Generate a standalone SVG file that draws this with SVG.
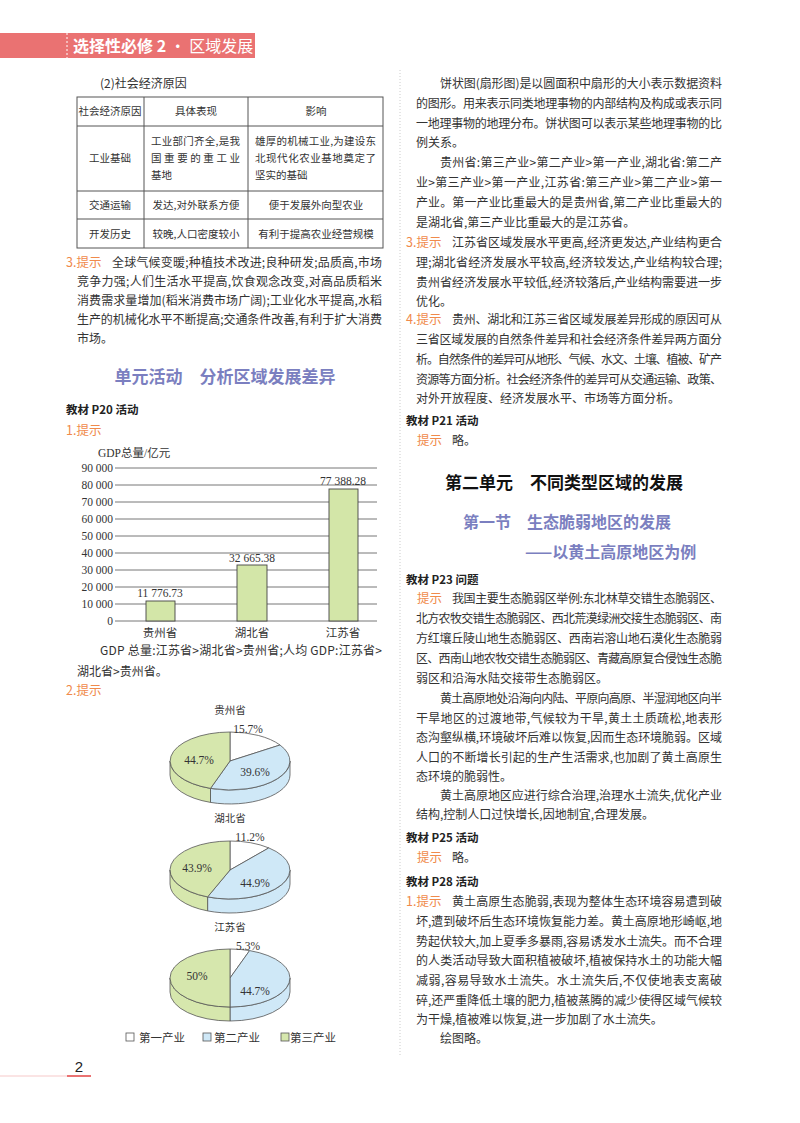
<svg xmlns="http://www.w3.org/2000/svg" width="800" height="1123" viewBox="0 0 800 1123">
<style>
.t{font-family:"Noto Sans CJK SC","Liberation Sans",sans-serif;font-size:12px;fill:#333}
.s{font-size:10.5px}
.b{font-family:"Noto Sans CJK SC",sans-serif;font-size:11.5px;font-weight:bold;fill:#222}
.o{font-family:"Noto Sans CJK SC",sans-serif;font-size:12.5px;fill:#f08a4b}
.h{font-family:"Noto Sans CJK SC",sans-serif;font-size:17px;font-weight:bold;fill:#7b7fc0}
.n{font-family:"Liberation Serif","Noto Sans CJK SC",serif;font-size:11.5px;fill:#333}
.c{text-anchor:middle}
.grid{stroke:#666;stroke-width:0.9}
.bar{fill:#d3e6a8;stroke:#444;stroke-width:0.9}
.pw{fill:#fff;stroke:#555;stroke-width:0.8}
.pb{fill:#cfe8f7;stroke:#555;stroke-width:0.8}
.pg{fill:#d6e7ad;stroke:#555;stroke-width:0.8}
.tb{fill:none;stroke:#555;stroke-width:1}
</style>
<rect width="800" height="1123" fill="#fff"/>
<g id="header">
<rect x="0" y="33" width="255" height="25" fill="#ea7272"/>
<line x1="67" y1="33" x2="67" y2="58" stroke="#fff" stroke-dasharray="2,2"/>
<text x="73" y="52" style="font-family:'Noto Sans CJK SC',sans-serif;font-size:16px;fill:#fff"><tspan font-weight="bold">选择性必修 2</tspan> · 区域发展</text>
</g>
<line x1="400" y1="70" x2="400" y2="1055" stroke="#ccc" stroke-dasharray="1,2"/>
<g id="footer">
<line x1="0" y1="1076" x2="67" y2="1076" stroke="#f6c9c9" stroke-width="1"/>
<line x1="67" y1="1076" x2="91" y2="1076" stroke="#ea7272" stroke-width="2"/>
<text x="79" y="1072" class="c" style="font-family:'Liberation Sans',sans-serif;font-size:15px;fill:#222">2</text>
</g>

<g id="table">
<text x="100" y="88" class="t">(2)社会经济原因</text>
<rect x="77" y="97" width="306" height="151" class="tb"/>
<line x1="77" y1="126" x2="383" y2="126" class="tb"/>
<line x1="77" y1="191" x2="383" y2="191" class="tb"/>
<line x1="77" y1="219" x2="383" y2="219" class="tb"/>
<line x1="144" y1="97" x2="144" y2="248" class="tb"/>
<line x1="248" y1="97" x2="248" y2="248" class="tb"/>
<text x="110" y="115" class="t s c">社会经济原因</text>
<text x="196" y="115" class="t s c">具体表现</text>
<text x="316" y="115" class="t s c">影响</text>
<text x="110" y="162" class="t s c">工业基础</text>
<text x="151" y="145" class="t s" textLength="89" lengthAdjust="spacing">工业部门齐全,是我</text>
<text x="151" y="162" class="t s" textLength="89" lengthAdjust="spacing">国重要的重工业</text>
<text x="151" y="179" class="t s">基地</text>
<text x="255" y="145" class="t s" textLength="121" lengthAdjust="spacing">雄厚的机械工业,为建设东</text>
<text x="255" y="162" class="t s" textLength="121" lengthAdjust="spacing">北现代化农业基地奠定了</text>
<text x="255" y="179" class="t s">坚实的基础</text>
<text x="110" y="209" class="t s c">交通运输</text>
<text x="196" y="209" class="t s c">发达,对外联系方便</text>
<text x="316" y="209" class="t s c">便于发展外向型农业</text>
<text x="110" y="238" class="t s c">开发历史</text>
<text x="196" y="238" class="t s c">较晚,人口密度较小</text>
<text x="316" y="238" class="t s c">有利于提高农业经营规模</text>
</g>

<g id="left-text">
<text x="66" y="267" class="o">3.提示</text>
<text x="112" y="267" class="t" textLength="270" lengthAdjust="spacing">全球气候变暖;种植技术改进;良种研发;品质高,市场</text>
<text x="77" y="286" class="t" textLength="305" lengthAdjust="spacing">竞争力强;人们生活水平提高,饮食观念改变,对高品质稻米</text>
<text x="77" y="305" class="t" textLength="305" lengthAdjust="spacing">消费需求量增加(稻米消费市场广阔);工业化水平提高,水稻</text>
<text x="77" y="324" class="t" textLength="305" lengthAdjust="spacing">生产的机械化水平不断提高;交通条件改善,有利于扩大消费</text>
<text x="77" y="343" class="t">市场。</text>
<text x="225" y="383" class="h c">单元活动　分析区域发展差异</text>
<text x="66" y="414" class="b">教材 P20 活动</text>
<text x="66" y="435" class="o">1.提示</text>
</g>

<g id="bar-chart">
<text x="98" y="457" class="n">GDP总量/亿元</text>
<g class="grid">
<line x1="115" y1="468" x2="377" y2="468"/><line x1="115" y1="485" x2="377" y2="485"/>
<line x1="115" y1="502" x2="377" y2="502"/><line x1="115" y1="519" x2="377" y2="519"/>
<line x1="115" y1="536" x2="377" y2="536"/><line x1="115" y1="553" x2="377" y2="553"/>
<line x1="115" y1="570" x2="377" y2="570"/><line x1="115" y1="587" x2="377" y2="587"/>
<line x1="115" y1="604" x2="377" y2="604"/><line x1="115" y1="621" x2="377" y2="621"/>
</g>
<g class="n" text-anchor="end">
<text x="113" y="472">90 000</text><text x="113" y="489">80 000</text>
<text x="113" y="506">70 000</text><text x="113" y="523">60 000</text>
<text x="113" y="540">50 000</text><text x="113" y="557">40 000</text>
<text x="113" y="574">30 000</text><text x="113" y="591">20 000</text>
<text x="113" y="608">10 000</text><text x="113" y="625">0</text>
</g>
<rect x="146" y="601" width="29" height="20" class="bar"/>
<rect x="237" y="565" width="30" height="56" class="bar"/>
<rect x="329" y="489" width="29" height="132" class="bar"/>
<text x="160" y="597" class="n c">11 776.73</text>
<text x="252" y="562" class="n c">32 665.38</text>
<text x="343" y="485" class="n c">77 388.28</text>
<text x="160" y="637" class="n c">贵州省</text>
<text x="252" y="637" class="n c">湖北省</text>
<text x="343" y="637" class="n c">江苏省</text>
</g>

<g id="gdp-text">
<text x="100" y="655" class="t" textLength="282" lengthAdjust="spacing">GDP 总量:江苏省&gt;湖北省&gt;贵州省;人均 GDP:江苏省&gt;</text>
<text x="77" y="676" class="t">湖北省&gt;贵州省。</text>
<text x="66" y="695" class="o">2.提示</text>
</g>

<g id="pie-guizhou">
<text x="230" y="714" class="t s c">贵州省</text>
<path d="M290,761 A60,29 0 0 1 210.5,788.4 L210.5,802.4 A60,29 0 0 0 290,775 Z" class="pb"/>
<path d="M210.5,788.4 A60,29 0 0 1 170,761 L170,775 A60,29 0 0 0 210.5,802.4 Z" class="pg"/>
<path d="M230,761 L230,732 A60,29 0 0 1 280,745 Z" class="pw"/>
<path d="M230,761 L280,745 A60,29 0 0 1 210.5,788.4 Z" class="pb"/>
<path d="M230,761 L210.5,788.4 A60,29 0 0 1 230,732 Z" class="pg"/>
<text x="248" y="733" class="n c">15.7%</text>
<text x="199" y="764" class="n c">44.7%</text>
<text x="255" y="776" class="n c">39.6%</text>
</g>
<g id="pie-hubei">
<text x="230" y="822" class="t s c">湖北省</text>
<path d="M290,870 A60,29 0 0 1 207.6,896.9 L207.6,910.9 A60,29 0 0 0 290,884 Z" class="pb"/>
<path d="M207.6,896.9 A60,29 0 0 1 170,870 L170,884 A60,29 0 0 0 207.6,910.9 Z" class="pg"/>
<path d="M230,870 L230,841 A60,29 0 0 1 268.8,847.9 Z" class="pw"/>
<path d="M230,870 L268.8,847.9 A60,29 0 0 1 207.6,896.9 Z" class="pb"/>
<path d="M230,870 L207.6,896.9 A60,29 0 0 1 230,841 Z" class="pg"/>
<text x="250" y="841" class="n c">11.2%</text>
<text x="197" y="872" class="n c">43.9%</text>
<text x="255" y="887" class="n c">44.9%</text>
</g>
<g id="pie-jiangsu">
<text x="230" y="931" class="t s c">江苏省</text>
<path d="M290,978 A60,29 0 0 1 230,1007 L230,1021 A60,29 0 0 0 290,992 Z" class="pb"/>
<path d="M230,1007 A60,29 0 0 1 170,978 L170,992 A60,29 0 0 0 230,1021 Z" class="pg"/>
<path d="M230,978 L230,949 A60,29 0 0 1 249.6,950.6 Z" class="pw"/>
<path d="M230,978 L249.6,950.6 A60,29 0 0 1 230,1007 Z" class="pb"/>
<path d="M230,978 L230,1007 A60,29 0 0 1 230,949 Z" class="pg"/>
<text x="248" y="950" class="n c">5.3%</text>
<text x="197" y="980" class="n c">50%</text>
<text x="255" y="995" class="n c">44.7%</text>
</g>
<g id="legend">
<rect x="126" y="1033" width="8" height="8" class="pw"/>
<text x="139" y="1042" class="n">第一产业</text>
<rect x="203" y="1033" width="8" height="8" class="pb"/>
<text x="214" y="1042" class="n">第二产业</text>
<rect x="281" y="1033" width="8" height="8" class="pg"/>
<text x="290" y="1042" class="n">第三产业</text>
</g>

<g id="right-top">
<text x="440" y="88" class="t" textLength="282" lengthAdjust="spacing">饼状图(扇形图)是以圆面积中扇形的大小表示数据资料</text>
<text x="416" y="108" class="t" textLength="306" lengthAdjust="spacing">的图形。用来表示同类地理事物的内部结构及构成或表示同</text>
<text x="416" y="128" class="t" textLength="306" lengthAdjust="spacing">一地理事物的地理分布。饼状图可以表示某些地理事物的比</text>
<text x="416" y="147" class="t">例关系。</text>
<text x="440" y="167" class="t" textLength="282" lengthAdjust="spacing">贵州省:第三产业&gt;第二产业&gt;第一产业,湖北省:第二产</text>
<text x="416" y="187" class="t" textLength="306" lengthAdjust="spacing">业&gt;第三产业&gt;第一产业,江苏省:第三产业&gt;第二产业&gt;第一</text>
<text x="416" y="207" class="t" textLength="306" lengthAdjust="spacing">产业。第一产业比重最大的是贵州省,第二产业比重最大的</text>
<text x="416" y="227" class="t">是湖北省,第三产业比重最大的是江苏省。</text>
<text x="406" y="247" class="o">3.提示</text>
<text x="452" y="247" class="t" textLength="270" lengthAdjust="spacing">江苏省区域发展水平更高,经济更发达,产业结构更合</text>
<text x="416" y="267" class="t" textLength="306" lengthAdjust="spacing">理;湖北省经济发展水平较高,经济较发达,产业结构较合理;</text>
<text x="416" y="287" class="t" textLength="306" lengthAdjust="spacing">贵州省经济发展水平较低,经济较落后,产业结构需要进一步</text>
<text x="416" y="306" class="t">优化。</text>
<text x="406" y="324" class="o">4.提示</text>
<text x="452" y="324" class="t" textLength="270" lengthAdjust="spacing">贵州、湖北和江苏三省区域发展差异形成的原因可从</text>
<text x="416" y="344" class="t" textLength="306" lengthAdjust="spacing">三省区域发展的自然条件差异和社会经济条件差异两方面分</text>
<text x="416" y="364" class="t" textLength="306" lengthAdjust="spacing">析。自然条件的差异可从地形、气候、水文、土壤、植被、矿产</text>
<text x="416" y="384" class="t" textLength="306" lengthAdjust="spacing">资源等方面分析。社会经济条件的差异可从交通运输、政策、</text>
<text x="416" y="403" class="t">对外开放程度、经济发展水平、市场等方面分析。</text>
<text x="406" y="425" class="b">教材 P21 活动</text>
<text x="417" y="445" class="o">提示</text>
<text x="452" y="445" class="t">略。</text>
</g>

<g id="right-mid">
<text x="564" y="489" class="c" style="font-family:'Noto Sans CJK SC',sans-serif;font-size:17px;font-weight:bold;fill:#111">第二单元　不同类型区域的发展</text>
<text x="463" y="528" class="h" style="font-size:16px">第一节　生态脆弱地区的发展</text>
<text x="525" y="558" class="h" style="font-size:16px">——以黄土高原地区为例</text>
<text x="406" y="584" class="b">教材 P23 问题</text>
<text x="417" y="603" class="o">提示</text>
<text x="452" y="603" class="t" textLength="270" lengthAdjust="spacing">我国主要生态脆弱区举例:东北林草交错生态脆弱区、</text>
<text x="416" y="623" class="t" textLength="306" lengthAdjust="spacing">北方农牧交错生态脆弱区、西北荒漠绿洲交接生态脆弱区、南</text>
<text x="416" y="643" class="t" textLength="306" lengthAdjust="spacing">方红壤丘陵山地生态脆弱区、西南岩溶山地石漠化生态脆弱</text>
<text x="416" y="663" class="t" textLength="306" lengthAdjust="spacing">区、西南山地农牧交错生态脆弱区、青藏高原复合侵蚀生态脆</text>
<text x="416" y="683" class="t">弱区和沿海水陆交接带生态脆弱区。</text>
<text x="440" y="703" class="t" textLength="282" lengthAdjust="spacing">黄土高原地处沿海向内陆、平原向高原、半湿润地区向半</text>
<text x="416" y="723" class="t" textLength="306" lengthAdjust="spacing">干旱地区的过渡地带,气候较为干旱,黄土土质疏松,地表形</text>
<text x="416" y="742" class="t" textLength="306" lengthAdjust="spacing">态沟壑纵横,环境破坏后难以恢复,因而生态环境脆弱。区域</text>
<text x="416" y="762" class="t" textLength="306" lengthAdjust="spacing">人口的不断增长引起的生产生活需求,也加剧了黄土高原生</text>
<text x="416" y="781" class="t">态环境的脆弱性。</text>
<text x="440" y="800" class="t" textLength="282" lengthAdjust="spacing">黄土高原地区应进行综合治理,治理水土流失,优化产业</text>
<text x="416" y="819" class="t">结构,控制人口过快增长,因地制宜,合理发展。</text>
</g>

<g id="right-bottom">
<text x="406" y="842" class="b">教材 P25 活动</text>
<text x="417" y="862" class="o">提示</text>
<text x="452" y="862" class="t">略。</text>
<text x="406" y="886" class="b">教材 P28 活动</text>
<text x="406" y="906" class="o">1.提示</text>
<text x="452" y="906" class="t" textLength="270" lengthAdjust="spacing">黄土高原生态脆弱,表现为整体生态环境容易遭到破</text>
<text x="416" y="926" class="t" textLength="306" lengthAdjust="spacing">坏,遭到破坏后生态环境恢复能力差。黄土高原地形崎岖,地</text>
<text x="416" y="946" class="t" textLength="306" lengthAdjust="spacing">势起伏较大,加上夏季多暴雨,容易诱发水土流失。而不合理</text>
<text x="416" y="965" class="t" textLength="306" lengthAdjust="spacing">的人类活动导致大面积植被破坏,植被保持水土的功能大幅</text>
<text x="416" y="985" class="t" textLength="306" lengthAdjust="spacing">减弱,容易导致水土流失。水土流失后,不仅使地表支离破</text>
<text x="416" y="1005" class="t" textLength="306" lengthAdjust="spacing">碎,还严重降低土壤的肥力,植被蒸腾的减少使得区域气候较</text>
<text x="416" y="1024" class="t">为干燥,植被难以恢复,进一步加剧了水土流失。</text>
<text x="440" y="1043" class="t">绘图略。</text>
</g>
</svg>
